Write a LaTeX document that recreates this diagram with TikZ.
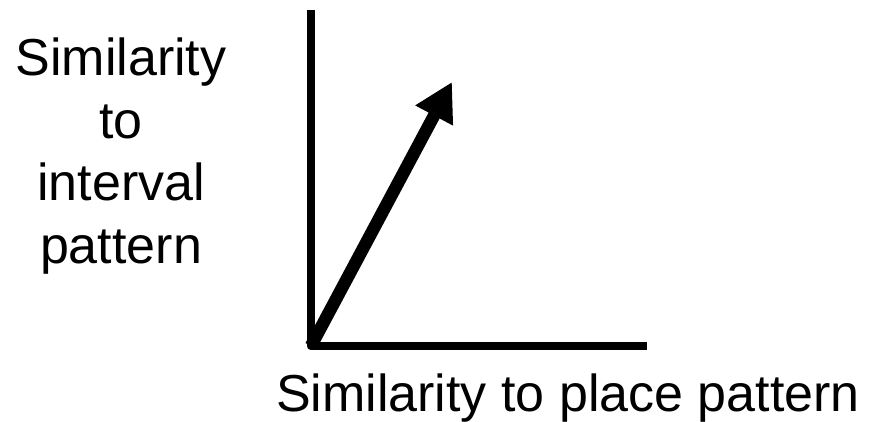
\documentclass[tikz,border=0pt]{standalone}
\usepackage{fontspec}
\setmainfont{Liberation Sans}
\usetikzlibrary{arrows.meta}

\begin{document}
\begin{tikzpicture}[x=1pt,y=1pt,
    axis/.style={line width=8.5pt,line join=round},
    vec/.style={line width=12.5pt,-{Triangle[length=38pt,width=40pt]}},
    lbl/.style={inner sep=0pt,font=\fontsize{52}{62.5}\selectfont}]
    \useasboundingbox (0,0) rectangle (877,421);
    \coordinate (origin) at (311,75);
    \coordinate (ytop) at (311,411);
    \coordinate (xend) at (647,75);
    \coordinate (tip) at (452,339);
    \draw[axis] (ytop) -- (origin) -- (xend);
    \draw[vec] (origin) -- (tip);
    \node[lbl,align=center,anchor=north] (ylabel) at (121,383) {Similarity\\to\\interval\\pattern};
    \node[lbl,anchor=base] (xlabel) at (568,10) {Similarity to place pattern};
\end{tikzpicture}
\end{document}
